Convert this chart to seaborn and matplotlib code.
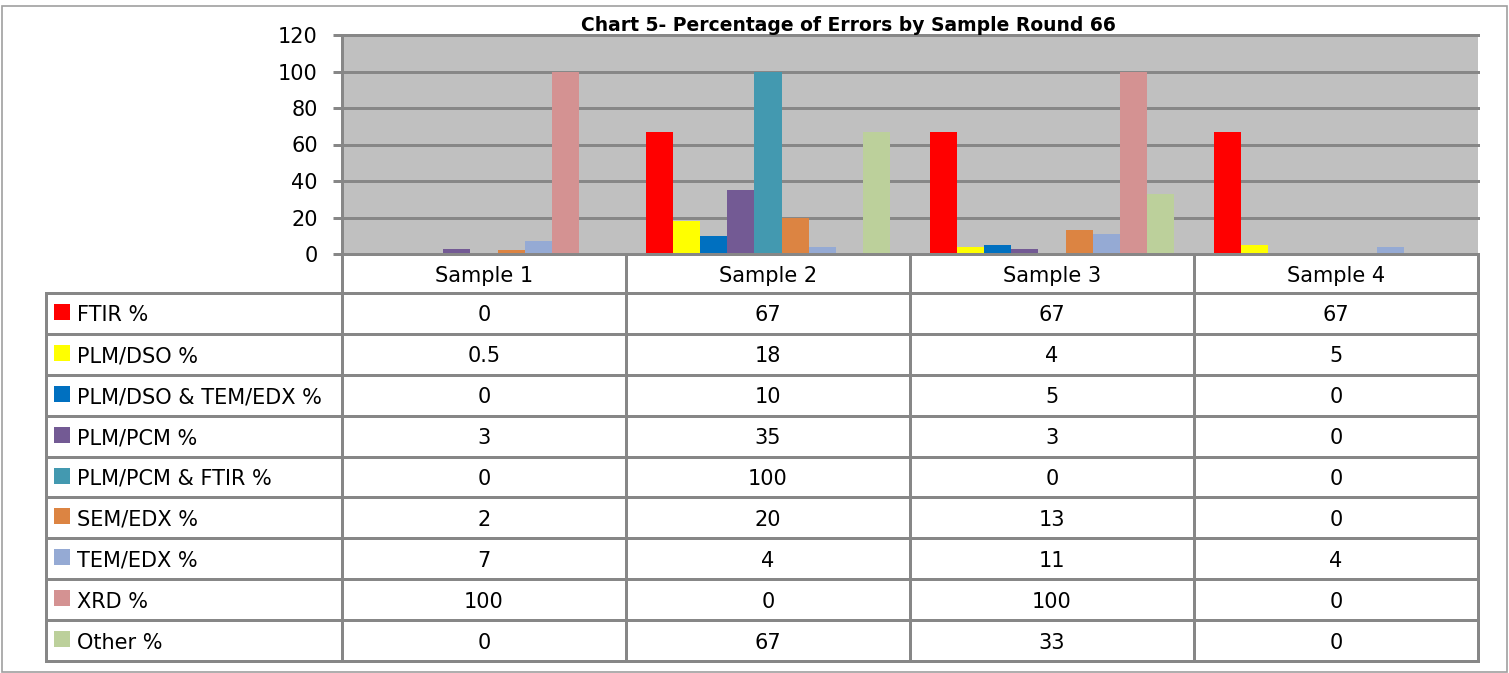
import pandas as pd
import seaborn as sns
import matplotlib.pyplot as plt
from matplotlib.patches import Rectangle

samples = ["Sample 1", "Sample 2", "Sample 3", "Sample 4"]
methods = ["FTIR %", "PLM/DSO %", "PLM/DSO & TEM/EDX %", "PLM/PCM %",
           "PLM/PCM & FTIR %", "SEM/EDX %", "TEM/EDX %", "XRD %", "Other %"]
ftir = [0, 67, 67, 67]
plm_dso = [0.5, 18, 4, 5]
plm_dso_tem = [0, 10, 5, 0]
plm_pcm = [3, 35, 3, 0]
plm_pcm_ftir = [0, 100, 0, 0]
sem_edx = [2, 20, 13, 0]
tem_edx = [7, 4, 11, 4]
xrd = [100, 0, 100, 0]
other = [0, 67, 33, 0]
colors = ["#FF0000", "#FFFF00", "#0070C0", "#735A94", "#4399B0",
          "#DC8442", "#95AAD4", "#D49292", "#BCD09B"]
yticks = [0, 20, 40, 60, 80, 100, 120]

series = [ftir, plm_dso, plm_dso_tem, plm_pcm, plm_pcm_ftir, sem_edx, tem_edx, xrd, other]
rows = []
for m, vals in zip(methods, series):
    for s, v in zip(samples, vals):
        rows.append({"sample": s, "method": m, "value": v})
df = pd.DataFrame(rows)

W, H = 1509, 673
GRAY = "#878787"
LW = 3 * 72 / 100  # 3 px lines

plt.rcParams['font.family'] = ['DejaVu Sans']
fig = plt.figure(figsize=(W / 100, H / 100), dpi=100)

# plot area in pixel coords
x0, x1, ytop, ybot = 342, 1478, 35, 254
ax = fig.add_axes([x0 / W, 1 - ybot / H, (x1 - x0) / W, (ybot - ytop) / H])
ax.set_facecolor("#C0C0C0")
sns.barplot(data=df, x="sample", y="value", hue="method", hue_order=methods,
            order=samples, palette=colors, width=0.857, gap=0, linewidth=0,
            saturation=1, legend=False, ax=ax)
ax.set_xlim(-0.5, len(samples) - 0.5)
ax.set_ylim(0, 120)
ax.set_yticks(yticks)
ax.set_xticks([])
ax.set_xlabel("")
ax.set_ylabel("")
ax.set_axisbelow(True)
ax.yaxis.grid(True, color=GRAY, linewidth=LW)
for gl in ax.get_ygridlines():
    gl.set_clip_on(False)
for side in ["top", "right", "bottom"]:
    ax.spines[side].set_visible(False)
ax.spines["left"].set_color(GRAY)
ax.spines["left"].set_linewidth(LW)
ax.tick_params(axis="y", direction="out", length=6.5, width=LW, color=GRAY,
               labelsize=15, pad=11)

# overlay in pixel coordinates for the data table
ov = fig.add_axes([0, 0, 1, 1], zorder=5)
ov.set_xlim(0, W)
ov.set_ylim(H, 0)
ov.axis("off")

fig.text(848 / W, 1 - 31 / H, "Chart 5- Percentage of Errors by Sample Round 66",
         ha="center", va="baseline", fontsize=13.5, fontweight="bold")

# outer border
ov.add_patch(Rectangle((2, 6), 1505, 666, fill=False, edgecolor="#A0A0A0", lw=1.2))

col_w = (x1 - x0) / len(samples)
col_x = [x0 + i * col_w for i in range(len(samples) + 1)]
head_top, head_bot = ybot, 293
row_h = (661 - head_bot) / len(methods)
tab_left = 46
tab_bot = head_bot + row_h * len(methods)

# lines
ov.plot([x0, x1], [head_top, head_top], color=GRAY, lw=LW)
for i in range(len(methods) + 1):
    y = head_bot + i * row_h
    ov.plot([tab_left, x1], [y, y], color=GRAY, lw=LW, solid_capstyle="projecting")
for cx in col_x:
    ov.plot([cx, cx], [head_top, tab_bot], color=GRAY, lw=LW, solid_capstyle="projecting")
ov.plot([tab_left, tab_left], [head_bot, tab_bot], color=GRAY, lw=LW, solid_capstyle="projecting")

# header
for i, s in enumerate(samples):
    ov.text(col_x[i] + col_w / 2, (head_top + head_bot) / 2, s, ha="center",
            va="center_baseline", fontsize=15)

# rows
for r, (m, vals) in enumerate(zip(methods, series)):
    yc = head_bot + (r + 0.5) * row_h
    ov.add_patch(Rectangle((54, yc - 9.5), 16, 16, facecolor=colors[r], edgecolor="none"))
    ov.text(77, yc, m, ha="left", va="center_baseline", fontsize=15)
    for i, v in enumerate(vals):
        ov.text(col_x[i] + col_w / 2, yc, f"{v:g}", ha="center",
                va="center_baseline", fontsize=15)

fig.savefig("out.png", dpi=100)
